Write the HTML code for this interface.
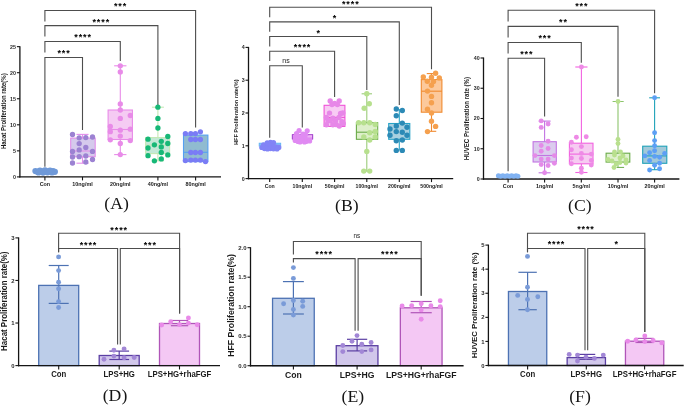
<!DOCTYPE html><html><head><meta charset="utf-8"><style>html,body{margin:0;padding:0;background:#fff;}svg{display:block;will-change:transform;}</style></head><body>
<svg width="685" height="407" viewBox="0 0 685 407">
<rect width="685" height="407" fill="#fff"/>
<polyline points="44.90,21.40 44.90,10.50 195.60,10.50 195.60,127.40" fill="none" stroke="#4d4d4d" stroke-width="1.1"/>
<polyline points="44.90,36.60 44.90,25.60 157.90,25.60 157.90,105.50" fill="none" stroke="#4d4d4d" stroke-width="1.1"/>
<polyline points="44.90,52.40 44.90,41.50 120.30,41.50 120.30,61.00" fill="none" stroke="#4d4d4d" stroke-width="1.1"/>
<polyline points="44.90,166.80 44.90,57.50 82.50,57.50 82.50,130.00" fill="none" stroke="#4d4d4d" stroke-width="1.1"/>
<text x="0" y="0" font-family='"Liberation Sans", sans-serif' font-size="9.0" font-weight="bold" text-anchor="middle" fill="#000" transform="translate(115.70 9.44) scale(1 1.0)">*</text>
<text x="0" y="0" font-family='"Liberation Sans", sans-serif' font-size="9.0" font-weight="bold" text-anchor="middle" fill="#000" transform="translate(120.10 9.44) scale(1 1.0)">*</text>
<text x="0" y="0" font-family='"Liberation Sans", sans-serif' font-size="9.0" font-weight="bold" text-anchor="middle" fill="#000" transform="translate(124.50 9.44) scale(1 1.0)">*</text>
<text x="0" y="0" font-family='"Liberation Sans", sans-serif' font-size="9.0" font-weight="bold" text-anchor="middle" fill="#000" transform="translate(94.20 24.64) scale(1 1.0)">*</text>
<text x="0" y="0" font-family='"Liberation Sans", sans-serif' font-size="9.0" font-weight="bold" text-anchor="middle" fill="#000" transform="translate(98.60 24.64) scale(1 1.0)">*</text>
<text x="0" y="0" font-family='"Liberation Sans", sans-serif' font-size="9.0" font-weight="bold" text-anchor="middle" fill="#000" transform="translate(103.00 24.64) scale(1 1.0)">*</text>
<text x="0" y="0" font-family='"Liberation Sans", sans-serif' font-size="9.0" font-weight="bold" text-anchor="middle" fill="#000" transform="translate(107.40 24.64) scale(1 1.0)">*</text>
<text x="0" y="0" font-family='"Liberation Sans", sans-serif' font-size="9.0" font-weight="bold" text-anchor="middle" fill="#000" transform="translate(76.00 40.34) scale(1 1.0)">*</text>
<text x="0" y="0" font-family='"Liberation Sans", sans-serif' font-size="9.0" font-weight="bold" text-anchor="middle" fill="#000" transform="translate(80.40 40.34) scale(1 1.0)">*</text>
<text x="0" y="0" font-family='"Liberation Sans", sans-serif' font-size="9.0" font-weight="bold" text-anchor="middle" fill="#000" transform="translate(84.80 40.34) scale(1 1.0)">*</text>
<text x="0" y="0" font-family='"Liberation Sans", sans-serif' font-size="9.0" font-weight="bold" text-anchor="middle" fill="#000" transform="translate(89.20 40.34) scale(1 1.0)">*</text>
<text x="0" y="0" font-family='"Liberation Sans", sans-serif' font-size="9.0" font-weight="bold" text-anchor="middle" fill="#000" transform="translate(59.20 56.14) scale(1 1.0)">*</text>
<text x="0" y="0" font-family='"Liberation Sans", sans-serif' font-size="9.0" font-weight="bold" text-anchor="middle" fill="#000" transform="translate(63.60 56.14) scale(1 1.0)">*</text>
<text x="0" y="0" font-family='"Liberation Sans", sans-serif' font-size="9.0" font-weight="bold" text-anchor="middle" fill="#000" transform="translate(68.00 56.14) scale(1 1.0)">*</text>
<line x1="19.90" y1="46.15" x2="19.90" y2="177.60" stroke="#151515" stroke-width="1.3" stroke-linecap="butt"/>
<line x1="16.90" y1="176.90" x2="19.90" y2="176.90" stroke="#151515" stroke-width="1.1" stroke-linecap="butt"/>
<text x="0" y="0" font-family='"Liberation Sans", sans-serif' font-size="5.3" font-weight="bold" text-anchor="end" fill="#2a2a2a" transform="translate(16.00 178.81) scale(1 1.0)">0</text>
<line x1="16.90" y1="150.85" x2="19.90" y2="150.85" stroke="#151515" stroke-width="1.1" stroke-linecap="butt"/>
<text x="0" y="0" font-family='"Liberation Sans", sans-serif' font-size="5.3" font-weight="bold" text-anchor="end" fill="#2a2a2a" transform="translate(16.00 152.76) scale(1 1.0)">5</text>
<line x1="16.90" y1="124.80" x2="19.90" y2="124.80" stroke="#151515" stroke-width="1.1" stroke-linecap="butt"/>
<text x="0" y="0" font-family='"Liberation Sans", sans-serif' font-size="5.3" font-weight="bold" text-anchor="end" fill="#2a2a2a" transform="translate(16.00 126.71) scale(1 1.0)">10</text>
<line x1="16.90" y1="98.75" x2="19.90" y2="98.75" stroke="#151515" stroke-width="1.1" stroke-linecap="butt"/>
<text x="0" y="0" font-family='"Liberation Sans", sans-serif' font-size="5.3" font-weight="bold" text-anchor="end" fill="#2a2a2a" transform="translate(16.00 100.66) scale(1 1.0)">15</text>
<line x1="16.90" y1="72.70" x2="19.90" y2="72.70" stroke="#151515" stroke-width="1.1" stroke-linecap="butt"/>
<text x="0" y="0" font-family='"Liberation Sans", sans-serif' font-size="5.3" font-weight="bold" text-anchor="end" fill="#2a2a2a" transform="translate(16.00 74.61) scale(1 1.0)">20</text>
<line x1="16.90" y1="46.65" x2="19.90" y2="46.65" stroke="#151515" stroke-width="1.1" stroke-linecap="butt"/>
<text x="0" y="0" font-family='"Liberation Sans", sans-serif' font-size="5.3" font-weight="bold" text-anchor="end" fill="#2a2a2a" transform="translate(16.00 48.56) scale(1 1.0)">25</text>
<line x1="19.30" y1="176.90" x2="221.00" y2="176.90" stroke="#151515" stroke-width="1.4" stroke-linecap="butt"/>
<line x1="44.90" y1="176.90" x2="44.90" y2="180.40" stroke="#151515" stroke-width="1.1" stroke-linecap="butt"/>
<line x1="82.50" y1="176.90" x2="82.50" y2="180.40" stroke="#151515" stroke-width="1.1" stroke-linecap="butt"/>
<line x1="120.30" y1="176.90" x2="120.30" y2="180.40" stroke="#151515" stroke-width="1.1" stroke-linecap="butt"/>
<line x1="157.90" y1="176.90" x2="157.90" y2="180.40" stroke="#151515" stroke-width="1.1" stroke-linecap="butt"/>
<line x1="195.60" y1="176.90" x2="195.60" y2="180.40" stroke="#151515" stroke-width="1.1" stroke-linecap="butt"/>
<text x="0" y="0" font-family='"Liberation Sans", sans-serif' font-size="6.7" font-weight="bold" text-anchor="middle" fill="#1a1a1a" transform="translate(5.60 111.20) rotate(-90) scale(1 1.0)" textLength="75.80" lengthAdjust="spacingAndGlyphs">Hacat Proliferation rate(%)</text>
<text x="0" y="0" font-family='"Liberation Sans", sans-serif' font-size="5.4" font-weight="bold" text-anchor="middle" fill="#1a1a1a" transform="translate(44.90 186.10) scale(1 1.0)">Con</text>
<text x="0" y="0" font-family='"Liberation Sans", sans-serif' font-size="5.4" font-weight="bold" text-anchor="middle" fill="#1a1a1a" transform="translate(82.50 186.10) scale(1 1.0)">10ng/ml</text>
<text x="0" y="0" font-family='"Liberation Sans", sans-serif' font-size="5.4" font-weight="bold" text-anchor="middle" fill="#1a1a1a" transform="translate(120.30 186.10) scale(1 1.0)">20ng/ml</text>
<text x="0" y="0" font-family='"Liberation Sans", sans-serif' font-size="5.4" font-weight="bold" text-anchor="middle" fill="#1a1a1a" transform="translate(157.90 186.10) scale(1 1.0)">40ng/ml</text>
<text x="0" y="0" font-family='"Liberation Sans", sans-serif' font-size="5.4" font-weight="bold" text-anchor="middle" fill="#1a1a1a" transform="translate(195.60 186.10) scale(1 1.0)">80ng/ml</text>
<text x="0" y="0" font-family='"Liberation Serif", serif' font-size="17.7" font-weight="normal" text-anchor="middle" fill="#151515" transform="translate(116.60 208.60) scale(1 1.0)">(A)</text>
<circle cx="35.40" cy="171.10" r="3.1" fill="#6f99d8"/>
<circle cx="37.60" cy="171.80" r="3.1" fill="#6f99d8"/>
<circle cx="39.80" cy="171.10" r="3.1" fill="#6f99d8"/>
<circle cx="42.00" cy="171.80" r="3.1" fill="#6f99d8"/>
<circle cx="44.20" cy="171.10" r="3.1" fill="#6f99d8"/>
<circle cx="46.40" cy="171.80" r="3.1" fill="#6f99d8"/>
<circle cx="48.60" cy="171.10" r="3.1" fill="#6f99d8"/>
<circle cx="50.80" cy="171.80" r="3.1" fill="#6f99d8"/>
<circle cx="53.00" cy="171.10" r="3.1" fill="#6f99d8"/>
<circle cx="54.90" cy="171.80" r="3.1" fill="#6f99d8"/>
<circle cx="38.50" cy="172.40" r="3.1" fill="#6f99d8"/>
<circle cx="43.00" cy="172.60" r="3.1" fill="#6f99d8"/>
<circle cx="47.50" cy="172.30" r="3.1" fill="#6f99d8"/>
<circle cx="52.00" cy="172.50" r="3.1" fill="#6f99d8"/>
<circle cx="40.00" cy="170.60" r="3.1" fill="#6f99d8"/>
<circle cx="45.00" cy="170.40" r="3.1" fill="#6f99d8"/>
<circle cx="50.00" cy="170.50" r="3.1" fill="#6f99d8"/>
<line x1="82.50" y1="134.40" x2="82.50" y2="138.10" stroke="#e28eea" stroke-width="1.1" stroke-linecap="butt"/>
<line x1="76.45" y1="134.40" x2="88.55" y2="134.40" stroke="#e28eea" stroke-width="1.1" stroke-linecap="butt"/>
<line x1="82.50" y1="156.70" x2="82.50" y2="163.20" stroke="#e28eea" stroke-width="1.1" stroke-linecap="butt"/>
<line x1="76.45" y1="163.20" x2="88.55" y2="163.20" stroke="#e28eea" stroke-width="1.1" stroke-linecap="butt"/>
<rect x="70.70" y="138.10" width="24.50" height="18.60" fill="#d5caec" stroke="#e28eea" stroke-width="1.1"/>
<line x1="70.70" y1="151.00" x2="95.20" y2="151.00" stroke="#e28eea" stroke-width="1.1" stroke-linecap="butt"/>
<circle cx="72.50" cy="134.50" r="2.65" fill="#9c82d2"/>
<circle cx="79.20" cy="137.80" r="2.65" fill="#9c82d2"/>
<circle cx="85.80" cy="137.60" r="2.65" fill="#9c82d2"/>
<circle cx="92.50" cy="137.00" r="2.65" fill="#9c82d2"/>
<circle cx="79.20" cy="143.60" r="2.65" fill="#9c82d2"/>
<circle cx="85.80" cy="147.50" r="2.65" fill="#9c82d2"/>
<circle cx="72.50" cy="151.40" r="2.65" fill="#9c82d2"/>
<circle cx="79.20" cy="149.90" r="2.65" fill="#9c82d2"/>
<circle cx="92.50" cy="151.40" r="2.65" fill="#9c82d2"/>
<circle cx="72.50" cy="157.00" r="2.65" fill="#9c82d2"/>
<circle cx="79.20" cy="156.70" r="2.65" fill="#9c82d2"/>
<circle cx="85.80" cy="156.00" r="2.65" fill="#9c82d2"/>
<circle cx="92.50" cy="159.50" r="2.65" fill="#9c82d2"/>
<circle cx="72.50" cy="163.00" r="2.65" fill="#9c82d2"/>
<circle cx="85.80" cy="162.00" r="2.65" fill="#9c82d2"/>
<line x1="120.30" y1="65.80" x2="120.30" y2="110.00" stroke="#e88be8" stroke-width="1.1" stroke-linecap="butt"/>
<line x1="114.15" y1="65.80" x2="126.45" y2="65.80" stroke="#e88be8" stroke-width="1.1" stroke-linecap="butt"/>
<line x1="120.30" y1="139.50" x2="120.30" y2="154.60" stroke="#e88be8" stroke-width="1.1" stroke-linecap="butt"/>
<line x1="114.15" y1="154.60" x2="126.45" y2="154.60" stroke="#e88be8" stroke-width="1.1" stroke-linecap="butt"/>
<rect x="108.10" y="110.00" width="24.30" height="29.50" fill="#f5cbf3" stroke="#e88be8" stroke-width="1.1"/>
<line x1="108.10" y1="129.50" x2="132.40" y2="129.50" stroke="#e88be8" stroke-width="1.1" stroke-linecap="butt"/>
<circle cx="120.30" cy="65.80" r="2.65" fill="#e88be8"/>
<circle cx="120.30" cy="71.90" r="2.65" fill="#e88be8"/>
<circle cx="120.30" cy="103.90" r="2.65" fill="#e88be8"/>
<circle cx="120.30" cy="110.00" r="2.65" fill="#e88be8"/>
<circle cx="130.30" cy="115.50" r="2.65" fill="#e88be8"/>
<circle cx="120.30" cy="118.40" r="2.65" fill="#e88be8"/>
<circle cx="110.30" cy="126.50" r="2.65" fill="#e88be8"/>
<circle cx="110.30" cy="131.70" r="2.65" fill="#e88be8"/>
<circle cx="120.30" cy="130.20" r="2.65" fill="#e88be8"/>
<circle cx="130.30" cy="129.20" r="2.65" fill="#e88be8"/>
<circle cx="120.30" cy="136.10" r="2.65" fill="#e88be8"/>
<circle cx="110.30" cy="139.80" r="2.65" fill="#e88be8"/>
<circle cx="130.30" cy="140.60" r="2.65" fill="#e88be8"/>
<circle cx="120.30" cy="143.50" r="2.65" fill="#e88be8"/>
<circle cx="120.30" cy="154.60" r="2.65" fill="#e88be8"/>
<line x1="157.90" y1="107.20" x2="157.90" y2="137.60" stroke="#c4e8b4" stroke-width="1.1" stroke-linecap="butt"/>
<line x1="151.90" y1="107.20" x2="163.90" y2="107.20" stroke="#c4e8b4" stroke-width="1.1" stroke-linecap="butt"/>
<line x1="157.90" y1="153.60" x2="157.90" y2="160.80" stroke="#c4e8b4" stroke-width="1.1" stroke-linecap="butt"/>
<line x1="151.90" y1="160.80" x2="163.90" y2="160.80" stroke="#c4e8b4" stroke-width="1.1" stroke-linecap="butt"/>
<rect x="145.60" y="137.60" width="24.00" height="16.00" fill="#c3e8d7" stroke="#c4e8b4" stroke-width="1.1"/>
<line x1="145.60" y1="145.10" x2="169.60" y2="145.10" stroke="#c4e8b4" stroke-width="1.1" stroke-linecap="butt"/>
<circle cx="157.90" cy="107.20" r="2.65" fill="#17b877"/>
<circle cx="157.90" cy="118.40" r="2.65" fill="#17b877"/>
<circle cx="157.90" cy="128.00" r="2.65" fill="#17b877"/>
<circle cx="148.00" cy="139.20" r="2.65" fill="#17b877"/>
<circle cx="154.40" cy="144.80" r="2.65" fill="#17b877"/>
<circle cx="161.30" cy="141.30" r="2.65" fill="#17b877"/>
<circle cx="167.80" cy="136.50" r="2.65" fill="#17b877"/>
<circle cx="167.80" cy="143.50" r="2.65" fill="#17b877"/>
<circle cx="161.30" cy="146.90" r="2.65" fill="#17b877"/>
<circle cx="148.00" cy="148.00" r="2.65" fill="#17b877"/>
<circle cx="161.30" cy="152.50" r="2.65" fill="#17b877"/>
<circle cx="148.00" cy="155.70" r="2.65" fill="#17b877"/>
<circle cx="167.80" cy="154.90" r="2.65" fill="#17b877"/>
<circle cx="161.30" cy="158.90" r="2.65" fill="#17b877"/>
<circle cx="154.40" cy="160.80" r="2.65" fill="#17b877"/>
<rect x="183.50" y="135.10" width="24.40" height="26.50" fill="#90bbd0" stroke="#55a0f2" stroke-width="1.1"/>
<line x1="183.50" y1="152.30" x2="207.90" y2="152.30" stroke="#55a0f2" stroke-width="1.1" stroke-linecap="butt"/>
<circle cx="185.40" cy="133.60" r="2.65" fill="#7a7cf5"/>
<circle cx="190.80" cy="133.60" r="2.65" fill="#7a7cf5"/>
<circle cx="195.40" cy="133.60" r="2.65" fill="#7a7cf5"/>
<circle cx="200.40" cy="131.80" r="2.65" fill="#7a7cf5"/>
<circle cx="190.80" cy="139.50" r="2.65" fill="#7a7cf5"/>
<circle cx="195.40" cy="139.50" r="2.65" fill="#7a7cf5"/>
<circle cx="200.40" cy="139.50" r="2.65" fill="#7a7cf5"/>
<circle cx="190.80" cy="152.50" r="2.65" fill="#7a7cf5"/>
<circle cx="195.40" cy="152.50" r="2.65" fill="#7a7cf5"/>
<circle cx="200.40" cy="152.50" r="2.65" fill="#7a7cf5"/>
<circle cx="185.40" cy="160.60" r="2.65" fill="#7a7cf5"/>
<circle cx="190.80" cy="160.10" r="2.65" fill="#7a7cf5"/>
<circle cx="195.40" cy="160.10" r="2.65" fill="#7a7cf5"/>
<circle cx="200.40" cy="160.10" r="2.65" fill="#7a7cf5"/>
<circle cx="205.50" cy="161.60" r="2.65" fill="#7a7cf5"/>
<polyline points="269.70,17.20 269.70,7.30 431.50,7.30 431.50,69.30" fill="none" stroke="#4d4d4d" stroke-width="1.1"/>
<polyline points="269.70,31.80 269.70,21.90 399.30,21.90 399.30,105.00" fill="none" stroke="#4d4d4d" stroke-width="1.1"/>
<polyline points="269.70,46.50 269.70,36.50 366.80,36.50 366.80,89.90" fill="none" stroke="#4d4d4d" stroke-width="1.1"/>
<polyline points="269.70,61.10 269.70,51.30 334.60,51.30 334.60,96.90" fill="none" stroke="#4d4d4d" stroke-width="1.1"/>
<polyline points="269.70,137.70 269.70,65.70 302.30,65.70 302.30,127.40" fill="none" stroke="#4d4d4d" stroke-width="1.1"/>
<text x="0" y="0" font-family='"Liberation Sans", sans-serif' font-size="9.0" font-weight="bold" text-anchor="middle" fill="#000" transform="translate(343.70 6.64) scale(1 1.0)">*</text>
<text x="0" y="0" font-family='"Liberation Sans", sans-serif' font-size="9.0" font-weight="bold" text-anchor="middle" fill="#000" transform="translate(348.10 6.64) scale(1 1.0)">*</text>
<text x="0" y="0" font-family='"Liberation Sans", sans-serif' font-size="9.0" font-weight="bold" text-anchor="middle" fill="#000" transform="translate(352.50 6.64) scale(1 1.0)">*</text>
<text x="0" y="0" font-family='"Liberation Sans", sans-serif' font-size="9.0" font-weight="bold" text-anchor="middle" fill="#000" transform="translate(356.90 6.64) scale(1 1.0)">*</text>
<text x="0" y="0" font-family='"Liberation Sans", sans-serif' font-size="9.0" font-weight="bold" text-anchor="middle" fill="#000" transform="translate(334.40 21.14) scale(1 1.0)">*</text>
<text x="0" y="0" font-family='"Liberation Sans", sans-serif' font-size="9.0" font-weight="bold" text-anchor="middle" fill="#000" transform="translate(318.30 35.74) scale(1 1.0)">*</text>
<text x="0" y="0" font-family='"Liberation Sans", sans-serif' font-size="9.0" font-weight="bold" text-anchor="middle" fill="#000" transform="translate(295.40 50.34) scale(1 1.0)">*</text>
<text x="0" y="0" font-family='"Liberation Sans", sans-serif' font-size="9.0" font-weight="bold" text-anchor="middle" fill="#000" transform="translate(299.80 50.34) scale(1 1.0)">*</text>
<text x="0" y="0" font-family='"Liberation Sans", sans-serif' font-size="9.0" font-weight="bold" text-anchor="middle" fill="#000" transform="translate(304.20 50.34) scale(1 1.0)">*</text>
<text x="0" y="0" font-family='"Liberation Sans", sans-serif' font-size="9.0" font-weight="bold" text-anchor="middle" fill="#000" transform="translate(308.60 50.34) scale(1 1.0)">*</text>
<text x="0" y="0" font-family='"Liberation Sans", sans-serif' font-size="7.0" font-weight="normal" text-anchor="middle" fill="#222" transform="translate(286.00 62.80) scale(1 1.0)">ns</text>
<line x1="248.50" y1="46.90" x2="248.50" y2="179.30" stroke="#151515" stroke-width="1.3" stroke-linecap="butt"/>
<line x1="245.50" y1="178.60" x2="248.50" y2="178.60" stroke="#151515" stroke-width="1.1" stroke-linecap="butt"/>
<text x="0" y="0" font-family='"Liberation Sans", sans-serif' font-size="5.3" font-weight="bold" text-anchor="end" fill="#2a2a2a" transform="translate(244.60 180.51) scale(1 1.0)">0</text>
<line x1="245.50" y1="145.80" x2="248.50" y2="145.80" stroke="#151515" stroke-width="1.1" stroke-linecap="butt"/>
<text x="0" y="0" font-family='"Liberation Sans", sans-serif' font-size="5.3" font-weight="bold" text-anchor="end" fill="#2a2a2a" transform="translate(244.60 147.71) scale(1 1.0)">1</text>
<line x1="245.50" y1="113.00" x2="248.50" y2="113.00" stroke="#151515" stroke-width="1.1" stroke-linecap="butt"/>
<text x="0" y="0" font-family='"Liberation Sans", sans-serif' font-size="5.3" font-weight="bold" text-anchor="end" fill="#2a2a2a" transform="translate(244.60 114.91) scale(1 1.0)">2</text>
<line x1="245.50" y1="80.20" x2="248.50" y2="80.20" stroke="#151515" stroke-width="1.1" stroke-linecap="butt"/>
<text x="0" y="0" font-family='"Liberation Sans", sans-serif' font-size="5.3" font-weight="bold" text-anchor="end" fill="#2a2a2a" transform="translate(244.60 82.11) scale(1 1.0)">3</text>
<line x1="245.50" y1="47.40" x2="248.50" y2="47.40" stroke="#151515" stroke-width="1.1" stroke-linecap="butt"/>
<text x="0" y="0" font-family='"Liberation Sans", sans-serif' font-size="5.3" font-weight="bold" text-anchor="end" fill="#2a2a2a" transform="translate(244.60 49.31) scale(1 1.0)">4</text>
<line x1="247.90" y1="178.60" x2="453.20" y2="178.60" stroke="#151515" stroke-width="1.4" stroke-linecap="butt"/>
<line x1="269.70" y1="178.60" x2="269.70" y2="182.10" stroke="#151515" stroke-width="1.1" stroke-linecap="butt"/>
<line x1="302.30" y1="178.60" x2="302.30" y2="182.10" stroke="#151515" stroke-width="1.1" stroke-linecap="butt"/>
<line x1="334.60" y1="178.60" x2="334.60" y2="182.10" stroke="#151515" stroke-width="1.1" stroke-linecap="butt"/>
<line x1="366.80" y1="178.60" x2="366.80" y2="182.10" stroke="#151515" stroke-width="1.1" stroke-linecap="butt"/>
<line x1="399.30" y1="178.60" x2="399.30" y2="182.10" stroke="#151515" stroke-width="1.1" stroke-linecap="butt"/>
<line x1="431.50" y1="178.60" x2="431.50" y2="182.10" stroke="#151515" stroke-width="1.1" stroke-linecap="butt"/>
<text x="0" y="0" font-family='"Liberation Sans", sans-serif' font-size="6.0" font-weight="bold" text-anchor="middle" fill="#1a1a1a" transform="translate(237.60 112.20) rotate(-90) scale(1 1.0)" textLength="65.70" lengthAdjust="spacingAndGlyphs">HFF Proliferation rate(%)</text>
<text x="0" y="0" font-family='"Liberation Sans", sans-serif' font-size="5.2" font-weight="bold" text-anchor="middle" fill="#1a1a1a" transform="translate(269.70 187.50) scale(1 1.0)">Con</text>
<text x="0" y="0" font-family='"Liberation Sans", sans-serif' font-size="5.2" font-weight="bold" text-anchor="middle" fill="#1a1a1a" transform="translate(302.30 187.50) scale(1 1.0)">10ng/ml</text>
<text x="0" y="0" font-family='"Liberation Sans", sans-serif' font-size="5.2" font-weight="bold" text-anchor="middle" fill="#1a1a1a" transform="translate(334.60 187.50) scale(1 1.0)">50ng/ml</text>
<text x="0" y="0" font-family='"Liberation Sans", sans-serif' font-size="5.2" font-weight="bold" text-anchor="middle" fill="#1a1a1a" transform="translate(366.80 187.50) scale(1 1.0)">100ng/ml</text>
<text x="0" y="0" font-family='"Liberation Sans", sans-serif' font-size="5.2" font-weight="bold" text-anchor="middle" fill="#1a1a1a" transform="translate(399.30 187.50) scale(1 1.0)">200ng/ml</text>
<text x="0" y="0" font-family='"Liberation Sans", sans-serif' font-size="5.2" font-weight="bold" text-anchor="middle" fill="#1a1a1a" transform="translate(431.50 187.50) scale(1 1.0)">500ng/ml</text>
<text x="0" y="0" font-family='"Liberation Serif", serif' font-size="17.7" font-weight="normal" text-anchor="middle" fill="#151515" transform="translate(346.80 210.70) scale(1 1.0)">(B)</text>
<rect x="259.20" y="143.20" width="21.50" height="2.90" fill="#86bdf3" stroke="#62b3f3" stroke-width="0.9"/>
<circle cx="263.50" cy="144.80" r="2.6" fill="#8284f6"/>
<circle cx="261.80" cy="147.50" r="2.6" fill="#8284f6"/>
<circle cx="264.50" cy="148.60" r="2.6" fill="#8284f6"/>
<circle cx="267.50" cy="146.00" r="2.6" fill="#8284f6"/>
<circle cx="267.20" cy="142.80" r="2.6" fill="#8284f6"/>
<circle cx="270.50" cy="142.30" r="2.6" fill="#8284f6"/>
<circle cx="273.50" cy="142.50" r="2.6" fill="#8284f6"/>
<circle cx="270.50" cy="145.50" r="2.6" fill="#8284f6"/>
<circle cx="273.50" cy="146.00" r="2.6" fill="#8284f6"/>
<circle cx="276.50" cy="147.20" r="2.6" fill="#8284f6"/>
<circle cx="278.80" cy="147.40" r="2.6" fill="#8284f6"/>
<circle cx="270.50" cy="148.60" r="2.6" fill="#8284f6"/>
<circle cx="267.50" cy="149.00" r="2.6" fill="#8284f6"/>
<circle cx="273.50" cy="148.80" r="2.6" fill="#8284f6"/>
<circle cx="277.00" cy="149.00" r="2.6" fill="#8284f6"/>
<rect x="292.40" y="134.60" width="20.20" height="4.50" fill="#e9b0f0" stroke="#a94fd0" stroke-width="1.0"/>
<circle cx="299.10" cy="130.60" r="2.6" fill="#e08af2"/>
<circle cx="307.20" cy="130.80" r="2.6" fill="#e08af2"/>
<circle cx="296.50" cy="133.50" r="2.6" fill="#e08af2"/>
<circle cx="303.00" cy="134.00" r="2.6" fill="#e08af2"/>
<circle cx="305.50" cy="134.50" r="2.6" fill="#e08af2"/>
<circle cx="295.20" cy="137.00" r="2.6" fill="#e08af2"/>
<circle cx="298.50" cy="136.50" r="2.6" fill="#e08af2"/>
<circle cx="302.50" cy="137.50" r="2.6" fill="#e08af2"/>
<circle cx="306.50" cy="137.00" r="2.6" fill="#e08af2"/>
<circle cx="309.60" cy="138.60" r="2.6" fill="#e08af2"/>
<circle cx="295.20" cy="140.50" r="2.6" fill="#e08af2"/>
<circle cx="298.00" cy="141.50" r="2.6" fill="#e08af2"/>
<circle cx="302.00" cy="140.50" r="2.6" fill="#e08af2"/>
<circle cx="306.00" cy="141.50" r="2.6" fill="#e08af2"/>
<circle cx="309.60" cy="141.00" r="2.6" fill="#e08af2"/>
<circle cx="300.00" cy="142.00" r="2.6" fill="#e08af2"/>
<circle cx="304.50" cy="142.00" r="2.6" fill="#e08af2"/>
<line x1="292.40" y1="134.60" x2="292.40" y2="139.10" stroke="#a94fd0" stroke-width="1.0" stroke-linecap="butt"/>
<line x1="312.60" y1="134.60" x2="312.60" y2="139.10" stroke="#a94fd0" stroke-width="1.0" stroke-linecap="butt"/>
<line x1="307.50" y1="136.80" x2="312.00" y2="136.80" stroke="#f3c8f6" stroke-width="0.9" stroke-linecap="butt"/>
<rect x="324.10" y="105.30" width="20.80" height="21.10" fill="#f8cbf4" stroke="#f052d8" stroke-width="1.1"/>
<line x1="324.10" y1="117.40" x2="344.90" y2="117.40" stroke="#f052d8" stroke-width="1.1" stroke-linecap="butt"/>
<circle cx="330.20" cy="100.90" r="2.7" fill="#e787e8"/>
<circle cx="339.20" cy="100.90" r="2.7" fill="#e787e8"/>
<circle cx="334.70" cy="103.40" r="2.7" fill="#e787e8"/>
<circle cx="332.00" cy="104.50" r="2.7" fill="#e787e8"/>
<circle cx="337.40" cy="104.50" r="2.7" fill="#e787e8"/>
<circle cx="328.00" cy="120.50" r="2.7" fill="#e787e8"/>
<circle cx="336.00" cy="124.50" r="2.7" fill="#e787e8"/>
<circle cx="339.00" cy="117.50" r="2.7" fill="#e787e8"/>
<circle cx="329.50" cy="113.10" r="2.7" fill="#e787e8"/>
<circle cx="340.60" cy="113.50" r="2.7" fill="#e787e8"/>
<circle cx="342.80" cy="113.00" r="2.7" fill="#e787e8"/>
<circle cx="326.40" cy="117.40" r="2.7" fill="#e787e8"/>
<circle cx="332.90" cy="118.20" r="2.7" fill="#e787e8"/>
<circle cx="330.30" cy="120.80" r="2.7" fill="#e787e8"/>
<circle cx="335.50" cy="120.80" r="2.7" fill="#e787e8"/>
<circle cx="341.90" cy="121.70" r="2.7" fill="#e787e8"/>
<circle cx="326.40" cy="124.70" r="2.7" fill="#e787e8"/>
<circle cx="332.90" cy="124.70" r="2.7" fill="#e787e8"/>
<circle cx="339.30" cy="126.00" r="2.7" fill="#e787e8"/>
<circle cx="343.20" cy="123.40" r="2.7" fill="#e787e8"/>
<line x1="366.80" y1="93.80" x2="366.80" y2="122.70" stroke="#9acb78" stroke-width="1.1" stroke-linecap="butt"/>
<line x1="361.60" y1="93.80" x2="372.00" y2="93.80" stroke="#9acb78" stroke-width="1.1" stroke-linecap="butt"/>
<line x1="366.80" y1="139.30" x2="366.80" y2="171.10" stroke="#9acb78" stroke-width="1.1" stroke-linecap="butt"/>
<line x1="361.60" y1="171.10" x2="372.00" y2="171.10" stroke="#9acb78" stroke-width="1.1" stroke-linecap="butt"/>
<rect x="356.40" y="122.70" width="21.30" height="16.60" fill="#ddefca" stroke="#6aab48" stroke-width="1.1"/>
<line x1="356.40" y1="132.20" x2="377.70" y2="132.20" stroke="#6aab48" stroke-width="1.1" stroke-linecap="butt"/>
<circle cx="366.80" cy="93.80" r="2.7" fill="#b7e08e"/>
<circle cx="369.30" cy="103.70" r="2.7" fill="#b7e08e"/>
<circle cx="364.20" cy="108.30" r="2.7" fill="#b7e08e"/>
<circle cx="358.60" cy="122.70" r="2.7" fill="#b7e08e"/>
<circle cx="363.80" cy="122.70" r="2.7" fill="#b7e08e"/>
<circle cx="369.70" cy="122.70" r="2.7" fill="#b7e08e"/>
<circle cx="375.20" cy="124.50" r="2.7" fill="#b7e08e"/>
<circle cx="369.70" cy="132.80" r="2.7" fill="#b7e08e"/>
<circle cx="375.20" cy="131.50" r="2.7" fill="#b7e08e"/>
<circle cx="363.80" cy="136.90" r="2.7" fill="#b7e08e"/>
<circle cx="369.70" cy="140.00" r="2.7" fill="#b7e08e"/>
<circle cx="375.20" cy="136.90" r="2.7" fill="#b7e08e"/>
<circle cx="366.80" cy="151.40" r="2.7" fill="#b7e08e"/>
<circle cx="363.80" cy="171.10" r="2.7" fill="#b7e08e"/>
<circle cx="369.70" cy="171.10" r="2.7" fill="#b7e08e"/>
<line x1="399.30" y1="109.00" x2="399.30" y2="123.50" stroke="#28a4c8" stroke-width="1.1" stroke-linecap="butt"/>
<line x1="399.30" y1="139.30" x2="399.30" y2="150.40" stroke="#28a4c8" stroke-width="1.1" stroke-linecap="butt"/>
<rect x="388.70" y="123.50" width="21.10" height="15.80" fill="#a8d0e0" stroke="#28a4c8" stroke-width="1.1"/>
<circle cx="396.30" cy="109.00" r="2.7" fill="#2c8ab6"/>
<circle cx="402.30" cy="110.50" r="2.7" fill="#2c8ab6"/>
<circle cx="396.30" cy="115.70" r="2.7" fill="#2c8ab6"/>
<circle cx="402.30" cy="123.10" r="2.7" fill="#2c8ab6"/>
<circle cx="396.30" cy="126.00" r="2.7" fill="#2c8ab6"/>
<circle cx="390.00" cy="129.00" r="2.7" fill="#2c8ab6"/>
<circle cx="407.00" cy="127.20" r="2.7" fill="#2c8ab6"/>
<circle cx="396.30" cy="131.60" r="2.7" fill="#2c8ab6"/>
<circle cx="402.30" cy="132.20" r="2.7" fill="#2c8ab6"/>
<circle cx="390.00" cy="135.20" r="2.7" fill="#2c8ab6"/>
<circle cx="407.00" cy="135.20" r="2.7" fill="#2c8ab6"/>
<circle cx="396.30" cy="140.80" r="2.7" fill="#2c8ab6"/>
<circle cx="402.30" cy="140.00" r="2.7" fill="#2c8ab6"/>
<circle cx="396.30" cy="150.40" r="2.7" fill="#2c8ab6"/>
<circle cx="402.30" cy="150.40" r="2.7" fill="#2c8ab6"/>
<line x1="431.50" y1="73.60" x2="431.50" y2="79.60" stroke="#f08a30" stroke-width="1.1" stroke-linecap="butt"/>
<line x1="426.75" y1="73.60" x2="436.25" y2="73.60" stroke="#f08a30" stroke-width="1.1" stroke-linecap="butt"/>
<line x1="431.50" y1="112.20" x2="431.50" y2="131.30" stroke="#f08a30" stroke-width="1.1" stroke-linecap="butt"/>
<line x1="426.75" y1="131.30" x2="436.25" y2="131.30" stroke="#f08a30" stroke-width="1.1" stroke-linecap="butt"/>
<rect x="421.30" y="79.60" width="20.60" height="32.60" fill="#fcc99c" stroke="#f08a30" stroke-width="1.1"/>
<line x1="421.30" y1="91.20" x2="441.90" y2="91.20" stroke="#f08a30" stroke-width="1.1" stroke-linecap="butt"/>
<circle cx="435.60" cy="73.20" r="2.7" fill="#f5a04e"/>
<circle cx="423.30" cy="77.00" r="2.7" fill="#f5a04e"/>
<circle cx="431.50" cy="77.30" r="2.7" fill="#f5a04e"/>
<circle cx="439.30" cy="77.90" r="2.7" fill="#f5a04e"/>
<circle cx="427.30" cy="81.30" r="2.7" fill="#f5a04e"/>
<circle cx="433.50" cy="81.60" r="2.7" fill="#f5a04e"/>
<circle cx="431.50" cy="85.20" r="2.7" fill="#f5a04e"/>
<circle cx="427.50" cy="91.10" r="2.7" fill="#f5a04e"/>
<circle cx="431.50" cy="96.40" r="2.7" fill="#f5a04e"/>
<circle cx="431.50" cy="102.70" r="2.7" fill="#f5a04e"/>
<circle cx="427.50" cy="109.30" r="2.7" fill="#f5a04e"/>
<circle cx="431.50" cy="113.00" r="2.7" fill="#f5a04e"/>
<circle cx="431.50" cy="121.30" r="2.7" fill="#f5a04e"/>
<circle cx="435.60" cy="126.40" r="2.7" fill="#f5a04e"/>
<circle cx="427.50" cy="131.60" r="2.7" fill="#f5a04e"/>
<polyline points="508.10,21.50 508.10,10.20 654.60,10.20 654.60,93.20" fill="none" stroke="#4d4d4d" stroke-width="1.1"/>
<polyline points="508.10,37.40 508.10,26.40 618.00,26.40 618.00,96.70" fill="none" stroke="#4d4d4d" stroke-width="1.1"/>
<polyline points="508.10,53.50 508.10,42.50 581.30,42.50 581.30,62.70" fill="none" stroke="#4d4d4d" stroke-width="1.1"/>
<polyline points="508.10,171.30 508.10,58.20 544.60,58.20 544.60,116.60" fill="none" stroke="#4d4d4d" stroke-width="1.1"/>
<text x="0" y="0" font-family='"Liberation Sans", sans-serif' font-size="9.0" font-weight="bold" text-anchor="middle" fill="#000" transform="translate(576.90 8.94) scale(1 1.0)">*</text>
<text x="0" y="0" font-family='"Liberation Sans", sans-serif' font-size="9.0" font-weight="bold" text-anchor="middle" fill="#000" transform="translate(581.30 8.94) scale(1 1.0)">*</text>
<text x="0" y="0" font-family='"Liberation Sans", sans-serif' font-size="9.0" font-weight="bold" text-anchor="middle" fill="#000" transform="translate(585.70 8.94) scale(1 1.0)">*</text>
<text x="0" y="0" font-family='"Liberation Sans", sans-serif' font-size="9.0" font-weight="bold" text-anchor="middle" fill="#000" transform="translate(560.80 24.84) scale(1 1.0)">*</text>
<text x="0" y="0" font-family='"Liberation Sans", sans-serif' font-size="9.0" font-weight="bold" text-anchor="middle" fill="#000" transform="translate(565.20 24.84) scale(1 1.0)">*</text>
<text x="0" y="0" font-family='"Liberation Sans", sans-serif' font-size="9.0" font-weight="bold" text-anchor="middle" fill="#000" transform="translate(540.20 40.94) scale(1 1.0)">*</text>
<text x="0" y="0" font-family='"Liberation Sans", sans-serif' font-size="9.0" font-weight="bold" text-anchor="middle" fill="#000" transform="translate(544.60 40.94) scale(1 1.0)">*</text>
<text x="0" y="0" font-family='"Liberation Sans", sans-serif' font-size="9.0" font-weight="bold" text-anchor="middle" fill="#000" transform="translate(549.00 40.94) scale(1 1.0)">*</text>
<text x="0" y="0" font-family='"Liberation Sans", sans-serif' font-size="9.0" font-weight="bold" text-anchor="middle" fill="#000" transform="translate(521.90 56.94) scale(1 1.0)">*</text>
<text x="0" y="0" font-family='"Liberation Sans", sans-serif' font-size="9.0" font-weight="bold" text-anchor="middle" fill="#000" transform="translate(526.30 56.94) scale(1 1.0)">*</text>
<text x="0" y="0" font-family='"Liberation Sans", sans-serif' font-size="9.0" font-weight="bold" text-anchor="middle" fill="#000" transform="translate(530.70 56.94) scale(1 1.0)">*</text>
<line x1="483.50" y1="57.50" x2="483.50" y2="179.70" stroke="#151515" stroke-width="1.3" stroke-linecap="butt"/>
<line x1="480.50" y1="179.00" x2="483.50" y2="179.00" stroke="#151515" stroke-width="1.1" stroke-linecap="butt"/>
<text x="0" y="0" font-family='"Liberation Sans", sans-serif' font-size="5.3" font-weight="bold" text-anchor="end" fill="#2a2a2a" transform="translate(479.60 180.91) scale(1 1.0)">0</text>
<line x1="480.50" y1="148.75" x2="483.50" y2="148.75" stroke="#151515" stroke-width="1.1" stroke-linecap="butt"/>
<text x="0" y="0" font-family='"Liberation Sans", sans-serif' font-size="5.3" font-weight="bold" text-anchor="end" fill="#2a2a2a" transform="translate(479.60 150.66) scale(1 1.0)">10</text>
<line x1="480.50" y1="118.50" x2="483.50" y2="118.50" stroke="#151515" stroke-width="1.1" stroke-linecap="butt"/>
<text x="0" y="0" font-family='"Liberation Sans", sans-serif' font-size="5.3" font-weight="bold" text-anchor="end" fill="#2a2a2a" transform="translate(479.60 120.41) scale(1 1.0)">20</text>
<line x1="480.50" y1="88.25" x2="483.50" y2="88.25" stroke="#151515" stroke-width="1.1" stroke-linecap="butt"/>
<text x="0" y="0" font-family='"Liberation Sans", sans-serif' font-size="5.3" font-weight="bold" text-anchor="end" fill="#2a2a2a" transform="translate(479.60 90.16) scale(1 1.0)">30</text>
<line x1="480.50" y1="58.00" x2="483.50" y2="58.00" stroke="#151515" stroke-width="1.1" stroke-linecap="butt"/>
<text x="0" y="0" font-family='"Liberation Sans", sans-serif' font-size="5.3" font-weight="bold" text-anchor="end" fill="#2a2a2a" transform="translate(479.60 59.91) scale(1 1.0)">40</text>
<line x1="482.90" y1="179.00" x2="679.40" y2="179.00" stroke="#151515" stroke-width="1.4" stroke-linecap="butt"/>
<line x1="508.10" y1="179.00" x2="508.10" y2="182.50" stroke="#151515" stroke-width="1.1" stroke-linecap="butt"/>
<line x1="544.60" y1="179.00" x2="544.60" y2="182.50" stroke="#151515" stroke-width="1.1" stroke-linecap="butt"/>
<line x1="581.30" y1="179.00" x2="581.30" y2="182.50" stroke="#151515" stroke-width="1.1" stroke-linecap="butt"/>
<line x1="618.00" y1="179.00" x2="618.00" y2="182.50" stroke="#151515" stroke-width="1.1" stroke-linecap="butt"/>
<line x1="654.60" y1="179.00" x2="654.60" y2="182.50" stroke="#151515" stroke-width="1.1" stroke-linecap="butt"/>
<text x="0" y="0" font-family='"Liberation Sans", sans-serif' font-size="6.7" font-weight="bold" text-anchor="middle" fill="#1a1a1a" transform="translate(469.00 118.55) rotate(-90) scale(1 1.0)" textLength="83.30" lengthAdjust="spacingAndGlyphs">HUVEC Proliferation rate (%)</text>
<text x="0" y="0" font-family='"Liberation Sans", sans-serif' font-size="5.4" font-weight="bold" text-anchor="middle" fill="#1a1a1a" transform="translate(508.10 188.30) scale(1 1.0)">Con</text>
<text x="0" y="0" font-family='"Liberation Sans", sans-serif' font-size="5.4" font-weight="bold" text-anchor="middle" fill="#1a1a1a" transform="translate(544.60 188.30) scale(1 1.0)">1ng/ml</text>
<text x="0" y="0" font-family='"Liberation Sans", sans-serif' font-size="5.4" font-weight="bold" text-anchor="middle" fill="#1a1a1a" transform="translate(581.30 188.30) scale(1 1.0)">5ng/ml</text>
<text x="0" y="0" font-family='"Liberation Sans", sans-serif' font-size="5.4" font-weight="bold" text-anchor="middle" fill="#1a1a1a" transform="translate(618.00 188.30) scale(1 1.0)">10ng/ml</text>
<text x="0" y="0" font-family='"Liberation Sans", sans-serif' font-size="5.4" font-weight="bold" text-anchor="middle" fill="#1a1a1a" transform="translate(654.60 188.30) scale(1 1.0)">20ng/ml</text>
<text x="0" y="0" font-family='"Liberation Serif", serif' font-size="17.7" font-weight="normal" text-anchor="middle" fill="#151515" transform="translate(579.80 211.00) scale(1 1.0)">(C)</text>
<circle cx="498.40" cy="175.70" r="2.5" fill="#80b2f2"/>
<circle cx="500.60" cy="176.20" r="2.5" fill="#80b2f2"/>
<circle cx="502.80" cy="175.70" r="2.5" fill="#80b2f2"/>
<circle cx="505.00" cy="176.20" r="2.5" fill="#80b2f2"/>
<circle cx="507.20" cy="175.70" r="2.5" fill="#80b2f2"/>
<circle cx="509.40" cy="176.20" r="2.5" fill="#80b2f2"/>
<circle cx="511.60" cy="175.70" r="2.5" fill="#80b2f2"/>
<circle cx="513.80" cy="176.20" r="2.5" fill="#80b2f2"/>
<circle cx="516.00" cy="175.70" r="2.5" fill="#80b2f2"/>
<circle cx="517.90" cy="176.20" r="2.5" fill="#80b2f2"/>
<line x1="544.60" y1="121.10" x2="544.60" y2="141.70" stroke="#c274e2" stroke-width="1.1" stroke-linecap="butt"/>
<line x1="538.60" y1="121.10" x2="550.60" y2="121.10" stroke="#c274e2" stroke-width="1.1" stroke-linecap="butt"/>
<line x1="544.60" y1="162.00" x2="544.60" y2="172.80" stroke="#c274e2" stroke-width="1.1" stroke-linecap="butt"/>
<line x1="538.60" y1="172.80" x2="550.60" y2="172.80" stroke="#c274e2" stroke-width="1.1" stroke-linecap="butt"/>
<rect x="533.10" y="141.70" width="23.20" height="20.30" fill="#dbccee" stroke="#c274e2" stroke-width="1.1"/>
<line x1="533.10" y1="155.50" x2="556.30" y2="155.50" stroke="#c274e2" stroke-width="1.1" stroke-linecap="butt"/>
<circle cx="541.20" cy="120.90" r="2.45" fill="#e48ae8"/>
<circle cx="548.10" cy="124.00" r="2.45" fill="#e48ae8"/>
<circle cx="541.20" cy="127.40" r="2.45" fill="#e48ae8"/>
<circle cx="548.10" cy="141.20" r="2.45" fill="#e48ae8"/>
<circle cx="541.20" cy="145.50" r="2.45" fill="#e48ae8"/>
<circle cx="548.10" cy="148.50" r="2.45" fill="#e48ae8"/>
<circle cx="541.20" cy="151.20" r="2.45" fill="#e48ae8"/>
<circle cx="535.00" cy="155.60" r="2.45" fill="#e48ae8"/>
<circle cx="554.40" cy="155.60" r="2.45" fill="#e48ae8"/>
<circle cx="541.20" cy="159.10" r="2.45" fill="#e48ae8"/>
<circle cx="548.10" cy="159.10" r="2.45" fill="#e48ae8"/>
<circle cx="541.20" cy="164.60" r="2.45" fill="#e48ae8"/>
<circle cx="548.10" cy="165.50" r="2.45" fill="#e48ae8"/>
<circle cx="554.40" cy="163.30" r="2.45" fill="#e48ae8"/>
<circle cx="544.60" cy="172.80" r="2.45" fill="#e48ae8"/>
<line x1="581.40" y1="67.00" x2="581.40" y2="143.20" stroke="#f262e0" stroke-width="1.1" stroke-linecap="butt"/>
<line x1="575.30" y1="67.00" x2="587.50" y2="67.00" stroke="#f262e0" stroke-width="1.1" stroke-linecap="butt"/>
<line x1="581.40" y1="163.80" x2="581.40" y2="172.50" stroke="#f262e0" stroke-width="1.1" stroke-linecap="butt"/>
<line x1="575.30" y1="172.50" x2="587.50" y2="172.50" stroke="#f262e0" stroke-width="1.1" stroke-linecap="butt"/>
<rect x="569.40" y="143.20" width="23.60" height="20.60" fill="#f6cbf1" stroke="#f262e0" stroke-width="1.1"/>
<line x1="569.40" y1="154.10" x2="593.00" y2="154.10" stroke="#f262e0" stroke-width="1.1" stroke-linecap="butt"/>
<circle cx="581.40" cy="67.00" r="2.45" fill="#ee8ae6"/>
<circle cx="576.40" cy="137.20" r="2.45" fill="#ee8ae6"/>
<circle cx="586.20" cy="136.80" r="2.45" fill="#ee8ae6"/>
<circle cx="571.40" cy="142.30" r="2.45" fill="#ee8ae6"/>
<circle cx="581.40" cy="146.60" r="2.45" fill="#ee8ae6"/>
<circle cx="571.40" cy="149.70" r="2.45" fill="#ee8ae6"/>
<circle cx="581.40" cy="153.40" r="2.45" fill="#ee8ae6"/>
<circle cx="591.30" cy="154.10" r="2.45" fill="#ee8ae6"/>
<circle cx="571.40" cy="158.10" r="2.45" fill="#ee8ae6"/>
<circle cx="581.40" cy="158.50" r="2.45" fill="#ee8ae6"/>
<circle cx="591.30" cy="160.40" r="2.45" fill="#ee8ae6"/>
<circle cx="571.40" cy="163.80" r="2.45" fill="#ee8ae6"/>
<circle cx="591.30" cy="165.10" r="2.45" fill="#ee8ae6"/>
<circle cx="581.40" cy="168.20" r="2.45" fill="#ee8ae6"/>
<circle cx="581.40" cy="172.30" r="2.45" fill="#ee8ae6"/>
<line x1="618.00" y1="101.50" x2="618.00" y2="153.20" stroke="#8cc46c" stroke-width="1.1" stroke-linecap="butt"/>
<line x1="618.00" y1="162.10" x2="618.00" y2="167.40" stroke="#8cc46c" stroke-width="1.1" stroke-linecap="butt"/>
<rect x="606.10" y="153.20" width="23.70" height="8.90" fill="#e0f1d0" stroke="#6aab48" stroke-width="1.1"/>
<line x1="612.60" y1="101.50" x2="623.70" y2="101.50" stroke="#8cc46c" stroke-width="1.0" stroke-linecap="butt"/>
<line x1="616.60" y1="167.40" x2="624.10" y2="167.40" stroke="#6aab48" stroke-width="1.0" stroke-linecap="butt"/>
<circle cx="618.00" cy="101.50" r="2.45" fill="#b9e08e"/>
<circle cx="618.00" cy="139.40" r="2.45" fill="#b9e08e"/>
<circle cx="618.00" cy="143.60" r="2.45" fill="#b9e08e"/>
<circle cx="614.50" cy="152.00" r="2.45" fill="#b9e08e"/>
<circle cx="620.50" cy="152.00" r="2.45" fill="#b9e08e"/>
<circle cx="614.50" cy="155.00" r="2.45" fill="#b9e08e"/>
<circle cx="620.00" cy="158.00" r="2.45" fill="#b9e08e"/>
<circle cx="608.00" cy="159.50" r="2.45" fill="#b9e08e"/>
<circle cx="612.00" cy="161.00" r="2.45" fill="#b9e08e"/>
<circle cx="626.00" cy="160.00" r="2.45" fill="#b9e08e"/>
<circle cx="620.00" cy="162.50" r="2.45" fill="#b9e08e"/>
<circle cx="626.00" cy="163.00" r="2.45" fill="#b9e08e"/>
<circle cx="616.00" cy="164.00" r="2.45" fill="#b9e08e"/>
<circle cx="614.00" cy="167.50" r="2.45" fill="#b9e08e"/>
<circle cx="623.00" cy="156.00" r="2.45" fill="#b9e08e"/>
<line x1="654.60" y1="97.80" x2="654.60" y2="146.20" stroke="#1fa2b8" stroke-width="1.1" stroke-linecap="butt"/>
<line x1="649.20" y1="97.80" x2="660.00" y2="97.80" stroke="#1fa2b8" stroke-width="1.1" stroke-linecap="butt"/>
<line x1="654.60" y1="163.30" x2="654.60" y2="169.70" stroke="#1fa2b8" stroke-width="1.1" stroke-linecap="butt"/>
<line x1="649.20" y1="169.70" x2="660.00" y2="169.70" stroke="#1fa2b8" stroke-width="1.1" stroke-linecap="butt"/>
<rect x="642.70" y="146.20" width="24.10" height="17.10" fill="#a3c9d9" stroke="#1fa2b8" stroke-width="1.1"/>
<line x1="642.70" y1="155.90" x2="666.80" y2="155.90" stroke="#1fa2b8" stroke-width="1.1" stroke-linecap="butt"/>
<circle cx="654.60" cy="97.80" r="2.45" fill="#5d9ff5"/>
<circle cx="654.60" cy="132.80" r="2.45" fill="#5d9ff5"/>
<circle cx="654.60" cy="140.60" r="2.45" fill="#5d9ff5"/>
<circle cx="654.60" cy="145.70" r="2.45" fill="#5d9ff5"/>
<circle cx="654.60" cy="150.70" r="2.45" fill="#5d9ff5"/>
<circle cx="649.60" cy="152.70" r="2.45" fill="#5d9ff5"/>
<circle cx="664.60" cy="153.40" r="2.45" fill="#5d9ff5"/>
<circle cx="644.80" cy="155.90" r="2.45" fill="#5d9ff5"/>
<circle cx="654.60" cy="156.40" r="2.45" fill="#5d9ff5"/>
<circle cx="659.60" cy="157.20" r="2.45" fill="#5d9ff5"/>
<circle cx="649.60" cy="160.50" r="2.45" fill="#5d9ff5"/>
<circle cx="659.60" cy="163.30" r="2.45" fill="#5d9ff5"/>
<circle cx="654.60" cy="165.30" r="2.45" fill="#5d9ff5"/>
<circle cx="649.60" cy="170.00" r="2.45" fill="#5d9ff5"/>
<circle cx="659.60" cy="168.70" r="2.45" fill="#5d9ff5"/>
<polyline points="58.60,252.20 58.60,233.30 179.60,233.30 179.60,313.60" fill="none" stroke="#4d4d4d" stroke-width="1.1"/>
<polyline points="58.60,252.20 58.60,248.50 117.60,248.50 117.60,344.60" fill="none" stroke="#4d4d4d" stroke-width="1.1"/>
<polyline points="120.30,344.60 120.30,248.50 179.60,248.50 179.60,313.60" fill="none" stroke="#4d4d4d" stroke-width="1.1"/>
<text x="0" y="0" font-family='"Liberation Sans", sans-serif' font-size="9.0" font-weight="bold" text-anchor="middle" fill="#000" transform="translate(112.10 232.74) scale(1 1.0)">*</text>
<text x="0" y="0" font-family='"Liberation Sans", sans-serif' font-size="9.0" font-weight="bold" text-anchor="middle" fill="#000" transform="translate(116.50 232.74) scale(1 1.0)">*</text>
<text x="0" y="0" font-family='"Liberation Sans", sans-serif' font-size="9.0" font-weight="bold" text-anchor="middle" fill="#000" transform="translate(120.90 232.74) scale(1 1.0)">*</text>
<text x="0" y="0" font-family='"Liberation Sans", sans-serif' font-size="9.0" font-weight="bold" text-anchor="middle" fill="#000" transform="translate(125.30 232.74) scale(1 1.0)">*</text>
<text x="0" y="0" font-family='"Liberation Sans", sans-serif' font-size="9.0" font-weight="bold" text-anchor="middle" fill="#000" transform="translate(81.40 247.74) scale(1 1.0)">*</text>
<text x="0" y="0" font-family='"Liberation Sans", sans-serif' font-size="9.0" font-weight="bold" text-anchor="middle" fill="#000" transform="translate(85.80 247.74) scale(1 1.0)">*</text>
<text x="0" y="0" font-family='"Liberation Sans", sans-serif' font-size="9.0" font-weight="bold" text-anchor="middle" fill="#000" transform="translate(90.20 247.74) scale(1 1.0)">*</text>
<text x="0" y="0" font-family='"Liberation Sans", sans-serif' font-size="9.0" font-weight="bold" text-anchor="middle" fill="#000" transform="translate(94.60 247.74) scale(1 1.0)">*</text>
<text x="0" y="0" font-family='"Liberation Sans", sans-serif' font-size="9.0" font-weight="bold" text-anchor="middle" fill="#000" transform="translate(145.40 247.74) scale(1 1.0)">*</text>
<text x="0" y="0" font-family='"Liberation Sans", sans-serif' font-size="9.0" font-weight="bold" text-anchor="middle" fill="#000" transform="translate(149.80 247.74) scale(1 1.0)">*</text>
<text x="0" y="0" font-family='"Liberation Sans", sans-serif' font-size="9.0" font-weight="bold" text-anchor="middle" fill="#000" transform="translate(154.20 247.74) scale(1 1.0)">*</text>
<rect x="38.70" y="285.40" width="40.00" height="80.20" fill="#bccde9" stroke="#4d72b3" stroke-width="1.3"/>
<rect x="99.20" y="355.50" width="40.00" height="10.10" fill="#d1c7eb" stroke="#5b3fa3" stroke-width="1.3"/>
<rect x="159.50" y="323.50" width="40.00" height="42.10" fill="#f4c8f4" stroke="#b055b8" stroke-width="1.3"/>
<line x1="58.70" y1="265.50" x2="58.70" y2="303.40" stroke="#4d72b3" stroke-width="1.2" stroke-linecap="butt"/>
<line x1="48.70" y1="265.50" x2="68.70" y2="265.50" stroke="#4d72b3" stroke-width="1.2" stroke-linecap="butt"/>
<line x1="48.70" y1="303.40" x2="68.70" y2="303.40" stroke="#4d72b3" stroke-width="1.2" stroke-linecap="butt"/>
<line x1="119.20" y1="351.10" x2="119.20" y2="359.50" stroke="#5b3fa3" stroke-width="1.2" stroke-linecap="butt"/>
<line x1="109.30" y1="351.10" x2="129.10" y2="351.10" stroke="#5b3fa3" stroke-width="1.2" stroke-linecap="butt"/>
<line x1="109.30" y1="359.50" x2="129.10" y2="359.50" stroke="#5b3fa3" stroke-width="1.2" stroke-linecap="butt"/>
<line x1="179.50" y1="320.50" x2="179.50" y2="325.70" stroke="#b055b8" stroke-width="1.2" stroke-linecap="butt"/>
<line x1="170.85" y1="320.50" x2="188.15" y2="320.50" stroke="#b055b8" stroke-width="1.2" stroke-linecap="butt"/>
<line x1="170.85" y1="325.70" x2="188.15" y2="325.70" stroke="#b055b8" stroke-width="1.2" stroke-linecap="butt"/>
<circle cx="58.60" cy="256.90" r="2.45" fill="#7a9bd8"/>
<circle cx="58.60" cy="270.60" r="2.45" fill="#7a9bd8"/>
<circle cx="58.60" cy="282.20" r="2.45" fill="#7a9bd8"/>
<circle cx="58.60" cy="288.80" r="2.45" fill="#7a9bd8"/>
<circle cx="58.60" cy="301.60" r="2.45" fill="#7a9bd8"/>
<circle cx="58.60" cy="307.50" r="2.45" fill="#7a9bd8"/>
<circle cx="113.90" cy="350.30" r="2.45" fill="#a287d6"/>
<circle cx="124.10" cy="348.90" r="2.45" fill="#a287d6"/>
<circle cx="113.90" cy="356.10" r="2.45" fill="#a287d6"/>
<circle cx="104.00" cy="359.30" r="2.45" fill="#a287d6"/>
<circle cx="124.10" cy="357.80" r="2.45" fill="#a287d6"/>
<circle cx="134.20" cy="357.50" r="2.45" fill="#a287d6"/>
<circle cx="188.40" cy="317.90" r="2.45" fill="#e98ae9"/>
<circle cx="170.70" cy="321.80" r="2.45" fill="#e98ae9"/>
<circle cx="179.50" cy="324.60" r="2.45" fill="#e98ae9"/>
<circle cx="188.40" cy="323.10" r="2.45" fill="#e98ae9"/>
<circle cx="161.70" cy="325.00" r="2.45" fill="#e98ae9"/>
<circle cx="197.20" cy="324.80" r="2.45" fill="#e98ae9"/>
<line x1="18.60" y1="237.39" x2="18.60" y2="366.30" stroke="#151515" stroke-width="1.3" stroke-linecap="butt"/>
<line x1="15.40" y1="365.60" x2="18.60" y2="365.60" stroke="#151515" stroke-width="1.1" stroke-linecap="butt"/>
<text x="0" y="0" font-family='"Liberation Sans", sans-serif' font-size="5.9" font-weight="bold" text-anchor="end" fill="#2a2a2a" transform="translate(14.50 367.72) scale(1 1.0)">0</text>
<line x1="15.40" y1="323.03" x2="18.60" y2="323.03" stroke="#151515" stroke-width="1.1" stroke-linecap="butt"/>
<text x="0" y="0" font-family='"Liberation Sans", sans-serif' font-size="5.9" font-weight="bold" text-anchor="end" fill="#2a2a2a" transform="translate(14.50 325.15) scale(1 1.0)">1</text>
<line x1="15.40" y1="280.46" x2="18.60" y2="280.46" stroke="#151515" stroke-width="1.1" stroke-linecap="butt"/>
<text x="0" y="0" font-family='"Liberation Sans", sans-serif' font-size="5.9" font-weight="bold" text-anchor="end" fill="#2a2a2a" transform="translate(14.50 282.58) scale(1 1.0)">2</text>
<line x1="15.40" y1="237.89" x2="18.60" y2="237.89" stroke="#151515" stroke-width="1.1" stroke-linecap="butt"/>
<text x="0" y="0" font-family='"Liberation Sans", sans-serif' font-size="5.9" font-weight="bold" text-anchor="end" fill="#2a2a2a" transform="translate(14.50 240.01) scale(1 1.0)">3</text>
<line x1="18.00" y1="365.60" x2="220.00" y2="365.60" stroke="#151515" stroke-width="1.4" stroke-linecap="butt"/>
<line x1="58.70" y1="365.60" x2="58.70" y2="369.50" stroke="#151515" stroke-width="1.1" stroke-linecap="butt"/>
<line x1="119.20" y1="365.60" x2="119.20" y2="369.50" stroke="#151515" stroke-width="1.1" stroke-linecap="butt"/>
<line x1="179.50" y1="365.60" x2="179.50" y2="369.50" stroke="#151515" stroke-width="1.1" stroke-linecap="butt"/>
<text x="0" y="0" font-family='"Liberation Sans", sans-serif' font-size="8.2" font-weight="bold" text-anchor="middle" fill="#1a1a1a" transform="translate(7.40 301.20) rotate(-90) scale(1 1.0)" textLength="99.40" lengthAdjust="spacingAndGlyphs">Hacat Proliferation rate(%)</text>
<text x="0" y="0" font-family='"Liberation Sans", sans-serif' font-size="7.8" font-weight="bold" text-anchor="middle" fill="#1a1a1a" transform="translate(58.70 376.80) scale(1 1.1)">Con</text>
<text x="0" y="0" font-family='"Liberation Sans", sans-serif' font-size="7.8" font-weight="bold" text-anchor="middle" fill="#1a1a1a" transform="translate(119.20 376.80) scale(1 1.1)">LPS+HG</text>
<text x="0" y="0" font-family='"Liberation Sans", sans-serif' font-size="7.8" font-weight="bold" text-anchor="middle" fill="#1a1a1a" transform="translate(179.50 376.80) scale(1 1.1)">LPS+HG+rhaFGF</text>
<text x="0" y="0" font-family='"Liberation Serif", serif' font-size="17.7" font-weight="normal" text-anchor="middle" fill="#151515" transform="translate(115.00 400.90) scale(1 1.0)">(D)</text>
<polyline points="293.40,254.50 293.40,241.50 421.20,241.50 421.20,295.80" fill="none" stroke="#4d4d4d" stroke-width="1.1"/>
<polyline points="293.40,262.50 293.40,258.60 355.10,258.60 355.10,330.70" fill="none" stroke="#4d4d4d" stroke-width="1.1"/>
<polyline points="358.10,330.70 358.10,258.60 421.20,258.60 421.20,295.80" fill="none" stroke="#4d4d4d" stroke-width="1.1"/>
<text x="0" y="0" font-family='"Liberation Sans", sans-serif' font-size="6.3" font-weight="normal" text-anchor="middle" fill="#222" transform="translate(356.90 237.60) scale(1 1.0)">ns</text>
<text x="0" y="0" font-family='"Liberation Sans", sans-serif' font-size="9.0" font-weight="bold" text-anchor="middle" fill="#000" transform="translate(317.00 257.14) scale(1 1.0)">*</text>
<text x="0" y="0" font-family='"Liberation Sans", sans-serif' font-size="9.0" font-weight="bold" text-anchor="middle" fill="#000" transform="translate(321.40 257.14) scale(1 1.0)">*</text>
<text x="0" y="0" font-family='"Liberation Sans", sans-serif' font-size="9.0" font-weight="bold" text-anchor="middle" fill="#000" transform="translate(325.80 257.14) scale(1 1.0)">*</text>
<text x="0" y="0" font-family='"Liberation Sans", sans-serif' font-size="9.0" font-weight="bold" text-anchor="middle" fill="#000" transform="translate(330.20 257.14) scale(1 1.0)">*</text>
<text x="0" y="0" font-family='"Liberation Sans", sans-serif' font-size="9.0" font-weight="bold" text-anchor="middle" fill="#000" transform="translate(382.70 257.14) scale(1 1.0)">*</text>
<text x="0" y="0" font-family='"Liberation Sans", sans-serif' font-size="9.0" font-weight="bold" text-anchor="middle" fill="#000" transform="translate(387.10 257.14) scale(1 1.0)">*</text>
<text x="0" y="0" font-family='"Liberation Sans", sans-serif' font-size="9.0" font-weight="bold" text-anchor="middle" fill="#000" transform="translate(391.50 257.14) scale(1 1.0)">*</text>
<text x="0" y="0" font-family='"Liberation Sans", sans-serif' font-size="9.0" font-weight="bold" text-anchor="middle" fill="#000" transform="translate(395.90 257.14) scale(1 1.0)">*</text>
<rect x="272.55" y="298.30" width="41.70" height="67.40" fill="#bccde9" stroke="#4d72b3" stroke-width="1.3"/>
<rect x="336.25" y="345.70" width="41.70" height="20.00" fill="#d1c7eb" stroke="#5b3fa3" stroke-width="1.3"/>
<rect x="400.35" y="307.80" width="41.70" height="57.90" fill="#f4c8f4" stroke="#b055b8" stroke-width="1.3"/>
<line x1="293.40" y1="281.60" x2="293.40" y2="314.00" stroke="#4d72b3" stroke-width="1.2" stroke-linecap="butt"/>
<line x1="282.95" y1="281.60" x2="303.85" y2="281.60" stroke="#4d72b3" stroke-width="1.2" stroke-linecap="butt"/>
<line x1="282.95" y1="314.00" x2="303.85" y2="314.00" stroke="#4d72b3" stroke-width="1.2" stroke-linecap="butt"/>
<line x1="357.10" y1="339.30" x2="357.10" y2="350.90" stroke="#5b3fa3" stroke-width="1.2" stroke-linecap="butt"/>
<line x1="347.00" y1="339.30" x2="367.20" y2="339.30" stroke="#5b3fa3" stroke-width="1.2" stroke-linecap="butt"/>
<line x1="347.00" y1="350.90" x2="367.20" y2="350.90" stroke="#5b3fa3" stroke-width="1.2" stroke-linecap="butt"/>
<line x1="421.20" y1="301.50" x2="421.20" y2="312.70" stroke="#b055b8" stroke-width="1.2" stroke-linecap="butt"/>
<line x1="410.65" y1="301.50" x2="431.75" y2="301.50" stroke="#b055b8" stroke-width="1.2" stroke-linecap="butt"/>
<line x1="410.65" y1="312.70" x2="431.75" y2="312.70" stroke="#b055b8" stroke-width="1.2" stroke-linecap="butt"/>
<circle cx="293.40" cy="267.60" r="2.45" fill="#7a9bd8"/>
<circle cx="293.40" cy="278.40" r="2.45" fill="#7a9bd8"/>
<circle cx="283.60" cy="303.70" r="2.45" fill="#7a9bd8"/>
<circle cx="293.40" cy="300.50" r="2.45" fill="#7a9bd8"/>
<circle cx="302.70" cy="301.30" r="2.45" fill="#7a9bd8"/>
<circle cx="302.70" cy="306.40" r="2.45" fill="#7a9bd8"/>
<circle cx="293.40" cy="309.40" r="2.45" fill="#7a9bd8"/>
<circle cx="293.40" cy="315.00" r="2.45" fill="#7a9bd8"/>
<circle cx="357.00" cy="335.60" r="2.45" fill="#a287d6"/>
<circle cx="352.00" cy="341.30" r="2.45" fill="#a287d6"/>
<circle cx="342.80" cy="345.50" r="2.45" fill="#a287d6"/>
<circle cx="361.80" cy="344.20" r="2.45" fill="#a287d6"/>
<circle cx="371.10" cy="342.50" r="2.45" fill="#a287d6"/>
<circle cx="342.80" cy="351.60" r="2.45" fill="#a287d6"/>
<circle cx="361.80" cy="351.60" r="2.45" fill="#a287d6"/>
<circle cx="371.10" cy="349.90" r="2.45" fill="#a287d6"/>
<circle cx="440.20" cy="300.70" r="2.45" fill="#e98ae9"/>
<circle cx="421.20" cy="303.70" r="2.45" fill="#e98ae9"/>
<circle cx="402.10" cy="305.90" r="2.45" fill="#e98ae9"/>
<circle cx="411.70" cy="305.60" r="2.45" fill="#e98ae9"/>
<circle cx="430.90" cy="305.80" r="2.45" fill="#e98ae9"/>
<circle cx="440.20" cy="306.60" r="2.45" fill="#e98ae9"/>
<circle cx="421.20" cy="309.90" r="2.45" fill="#e98ae9"/>
<circle cx="421.20" cy="319.20" r="2.45" fill="#e98ae9"/>
<line x1="250.50" y1="247.20" x2="250.50" y2="366.40" stroke="#151515" stroke-width="1.3" stroke-linecap="butt"/>
<line x1="247.50" y1="365.70" x2="250.50" y2="365.70" stroke="#151515" stroke-width="1.1" stroke-linecap="butt"/>
<text x="0" y="0" font-family='"Liberation Sans", sans-serif' font-size="6.0" font-weight="bold" text-anchor="end" fill="#2a2a2a" transform="translate(246.60 367.86) scale(1 1.0)">0.0</text>
<line x1="247.50" y1="336.20" x2="250.50" y2="336.20" stroke="#151515" stroke-width="1.1" stroke-linecap="butt"/>
<text x="0" y="0" font-family='"Liberation Sans", sans-serif' font-size="6.0" font-weight="bold" text-anchor="end" fill="#2a2a2a" transform="translate(246.60 338.36) scale(1 1.0)">0.5</text>
<line x1="247.50" y1="306.70" x2="250.50" y2="306.70" stroke="#151515" stroke-width="1.1" stroke-linecap="butt"/>
<text x="0" y="0" font-family='"Liberation Sans", sans-serif' font-size="6.0" font-weight="bold" text-anchor="end" fill="#2a2a2a" transform="translate(246.60 308.86) scale(1 1.0)">1.0</text>
<line x1="247.50" y1="277.20" x2="250.50" y2="277.20" stroke="#151515" stroke-width="1.1" stroke-linecap="butt"/>
<text x="0" y="0" font-family='"Liberation Sans", sans-serif' font-size="6.0" font-weight="bold" text-anchor="end" fill="#2a2a2a" transform="translate(246.60 279.36) scale(1 1.0)">1.5</text>
<line x1="247.50" y1="247.70" x2="250.50" y2="247.70" stroke="#151515" stroke-width="1.1" stroke-linecap="butt"/>
<text x="0" y="0" font-family='"Liberation Sans", sans-serif' font-size="6.0" font-weight="bold" text-anchor="end" fill="#2a2a2a" transform="translate(246.60 249.86) scale(1 1.0)">2.0</text>
<line x1="249.90" y1="365.70" x2="463.60" y2="365.70" stroke="#151515" stroke-width="1.4" stroke-linecap="butt"/>
<line x1="293.40" y1="365.70" x2="293.40" y2="369.60" stroke="#151515" stroke-width="1.1" stroke-linecap="butt"/>
<line x1="357.10" y1="365.70" x2="357.10" y2="369.60" stroke="#151515" stroke-width="1.1" stroke-linecap="butt"/>
<line x1="421.20" y1="365.70" x2="421.20" y2="369.60" stroke="#151515" stroke-width="1.1" stroke-linecap="butt"/>
<text x="0" y="0" font-family='"Liberation Sans", sans-serif' font-size="8.2" font-weight="bold" text-anchor="middle" fill="#1a1a1a" transform="translate(234.10 305.40) rotate(-90) scale(1 1.0)" textLength="102.80" lengthAdjust="spacingAndGlyphs">HFF Proliferation rate(%)</text>
<text x="0" y="0" font-family='"Liberation Sans", sans-serif' font-size="8.65" font-weight="bold" text-anchor="middle" fill="#1a1a1a" transform="translate(293.40 378.40) scale(1 1.1)">Con</text>
<text x="0" y="0" font-family='"Liberation Sans", sans-serif' font-size="8.65" font-weight="bold" text-anchor="middle" fill="#1a1a1a" transform="translate(357.10 378.40) scale(1 1.1)">LPS+HG</text>
<text x="0" y="0" font-family='"Liberation Sans", sans-serif' font-size="8.65" font-weight="bold" text-anchor="middle" fill="#1a1a1a" transform="translate(421.20 378.40) scale(1 1.1)">LPS+HG+rhaFGF</text>
<text x="0" y="0" font-family='"Liberation Serif", serif' font-size="17.7" font-weight="normal" text-anchor="middle" fill="#151515" transform="translate(352.80 401.70) scale(1 1.0)">(E)</text>
<polyline points="527.50,252.20 527.50,233.20 644.80,233.20 644.80,331.90" fill="none" stroke="#4d4d4d" stroke-width="1.1"/>
<polyline points="527.50,252.20 527.50,248.50 585.00,248.50 585.00,350.30" fill="none" stroke="#4d4d4d" stroke-width="1.1"/>
<polyline points="587.70,350.30 587.70,248.50 644.80,248.50 644.80,331.90" fill="none" stroke="#4d4d4d" stroke-width="1.1"/>
<text x="0" y="0" font-family='"Liberation Sans", sans-serif' font-size="9.0" font-weight="bold" text-anchor="middle" fill="#000" transform="translate(578.90 231.94) scale(1 1.0)">*</text>
<text x="0" y="0" font-family='"Liberation Sans", sans-serif' font-size="9.0" font-weight="bold" text-anchor="middle" fill="#000" transform="translate(583.30 231.94) scale(1 1.0)">*</text>
<text x="0" y="0" font-family='"Liberation Sans", sans-serif' font-size="9.0" font-weight="bold" text-anchor="middle" fill="#000" transform="translate(587.70 231.94) scale(1 1.0)">*</text>
<text x="0" y="0" font-family='"Liberation Sans", sans-serif' font-size="9.0" font-weight="bold" text-anchor="middle" fill="#000" transform="translate(592.10 231.94) scale(1 1.0)">*</text>
<text x="0" y="0" font-family='"Liberation Sans", sans-serif' font-size="9.0" font-weight="bold" text-anchor="middle" fill="#000" transform="translate(549.40 247.24) scale(1 1.0)">*</text>
<text x="0" y="0" font-family='"Liberation Sans", sans-serif' font-size="9.0" font-weight="bold" text-anchor="middle" fill="#000" transform="translate(553.80 247.24) scale(1 1.0)">*</text>
<text x="0" y="0" font-family='"Liberation Sans", sans-serif' font-size="9.0" font-weight="bold" text-anchor="middle" fill="#000" transform="translate(558.20 247.24) scale(1 1.0)">*</text>
<text x="0" y="0" font-family='"Liberation Sans", sans-serif' font-size="9.0" font-weight="bold" text-anchor="middle" fill="#000" transform="translate(562.60 247.24) scale(1 1.0)">*</text>
<text x="0" y="0" font-family='"Liberation Sans", sans-serif' font-size="9.0" font-weight="bold" text-anchor="middle" fill="#000" transform="translate(616.20 247.24) scale(1 1.0)">*</text>
<rect x="508.45" y="291.50" width="38.30" height="74.00" fill="#bccde9" stroke="#4d72b3" stroke-width="1.3"/>
<rect x="567.15" y="357.60" width="38.30" height="7.90" fill="#d1c7eb" stroke="#5b3fa3" stroke-width="1.3"/>
<rect x="625.45" y="341.20" width="38.30" height="24.30" fill="#f4c8f4" stroke="#b055b8" stroke-width="1.3"/>
<line x1="527.60" y1="272.30" x2="527.60" y2="309.70" stroke="#4d72b3" stroke-width="1.2" stroke-linecap="butt"/>
<line x1="518.40" y1="272.30" x2="536.80" y2="272.30" stroke="#4d72b3" stroke-width="1.2" stroke-linecap="butt"/>
<line x1="518.40" y1="309.70" x2="536.80" y2="309.70" stroke="#4d72b3" stroke-width="1.2" stroke-linecap="butt"/>
<line x1="586.30" y1="354.40" x2="586.30" y2="359.30" stroke="#5b3fa3" stroke-width="1.2" stroke-linecap="butt"/>
<line x1="577.35" y1="354.40" x2="595.25" y2="354.40" stroke="#5b3fa3" stroke-width="1.2" stroke-linecap="butt"/>
<line x1="577.35" y1="359.30" x2="595.25" y2="359.30" stroke="#5b3fa3" stroke-width="1.2" stroke-linecap="butt"/>
<line x1="644.60" y1="338.40" x2="644.60" y2="342.50" stroke="#b055b8" stroke-width="1.2" stroke-linecap="butt"/>
<line x1="635.50" y1="338.40" x2="653.70" y2="338.40" stroke="#b055b8" stroke-width="1.2" stroke-linecap="butt"/>
<line x1="635.50" y1="342.50" x2="653.70" y2="342.50" stroke="#b055b8" stroke-width="1.2" stroke-linecap="butt"/>
<circle cx="527.50" cy="256.40" r="2.45" fill="#7a9bd8"/>
<circle cx="527.50" cy="287.30" r="2.45" fill="#7a9bd8"/>
<circle cx="517.70" cy="295.40" r="2.45" fill="#7a9bd8"/>
<circle cx="527.50" cy="299.40" r="2.45" fill="#7a9bd8"/>
<circle cx="537.80" cy="296.70" r="2.45" fill="#7a9bd8"/>
<circle cx="527.50" cy="309.70" r="2.45" fill="#7a9bd8"/>
<circle cx="569.20" cy="354.40" r="2.45" fill="#a287d6"/>
<circle cx="577.50" cy="355.10" r="2.45" fill="#a287d6"/>
<circle cx="586.00" cy="357.10" r="2.45" fill="#a287d6"/>
<circle cx="594.40" cy="358.40" r="2.45" fill="#a287d6"/>
<circle cx="603.30" cy="355.10" r="2.45" fill="#a287d6"/>
<circle cx="577.50" cy="361.00" r="2.45" fill="#a287d6"/>
<circle cx="644.80" cy="336.00" r="2.45" fill="#e98ae9"/>
<circle cx="627.70" cy="341.20" r="2.45" fill="#e98ae9"/>
<circle cx="635.90" cy="340.00" r="2.45" fill="#e98ae9"/>
<circle cx="644.80" cy="341.60" r="2.45" fill="#e98ae9"/>
<circle cx="653.20" cy="340.50" r="2.45" fill="#e98ae9"/>
<circle cx="661.80" cy="342.90" r="2.45" fill="#e98ae9"/>
<line x1="488.40" y1="244.60" x2="488.40" y2="366.20" stroke="#151515" stroke-width="1.3" stroke-linecap="butt"/>
<line x1="485.40" y1="365.50" x2="488.40" y2="365.50" stroke="#151515" stroke-width="1.1" stroke-linecap="butt"/>
<text x="0" y="0" font-family='"Liberation Sans", sans-serif' font-size="5.9" font-weight="bold" text-anchor="end" fill="#2a2a2a" transform="translate(484.50 367.62) scale(1 1.0)">0</text>
<line x1="485.40" y1="341.42" x2="488.40" y2="341.42" stroke="#151515" stroke-width="1.1" stroke-linecap="butt"/>
<text x="0" y="0" font-family='"Liberation Sans", sans-serif' font-size="5.9" font-weight="bold" text-anchor="end" fill="#2a2a2a" transform="translate(484.50 343.54) scale(1 1.0)">1</text>
<line x1="485.40" y1="317.34" x2="488.40" y2="317.34" stroke="#151515" stroke-width="1.1" stroke-linecap="butt"/>
<text x="0" y="0" font-family='"Liberation Sans", sans-serif' font-size="5.9" font-weight="bold" text-anchor="end" fill="#2a2a2a" transform="translate(484.50 319.46) scale(1 1.0)">2</text>
<line x1="485.40" y1="293.26" x2="488.40" y2="293.26" stroke="#151515" stroke-width="1.1" stroke-linecap="butt"/>
<text x="0" y="0" font-family='"Liberation Sans", sans-serif' font-size="5.9" font-weight="bold" text-anchor="end" fill="#2a2a2a" transform="translate(484.50 295.38) scale(1 1.0)">3</text>
<line x1="485.40" y1="269.18" x2="488.40" y2="269.18" stroke="#151515" stroke-width="1.1" stroke-linecap="butt"/>
<text x="0" y="0" font-family='"Liberation Sans", sans-serif' font-size="5.9" font-weight="bold" text-anchor="end" fill="#2a2a2a" transform="translate(484.50 271.30) scale(1 1.0)">4</text>
<line x1="485.40" y1="245.10" x2="488.40" y2="245.10" stroke="#151515" stroke-width="1.1" stroke-linecap="butt"/>
<text x="0" y="0" font-family='"Liberation Sans", sans-serif' font-size="5.9" font-weight="bold" text-anchor="end" fill="#2a2a2a" transform="translate(484.50 247.22) scale(1 1.0)">5</text>
<line x1="487.80" y1="365.50" x2="683.70" y2="365.50" stroke="#151515" stroke-width="1.4" stroke-linecap="butt"/>
<line x1="527.60" y1="365.50" x2="527.60" y2="369.40" stroke="#151515" stroke-width="1.1" stroke-linecap="butt"/>
<line x1="586.30" y1="365.50" x2="586.30" y2="369.40" stroke="#151515" stroke-width="1.1" stroke-linecap="butt"/>
<line x1="644.60" y1="365.50" x2="644.60" y2="369.40" stroke="#151515" stroke-width="1.1" stroke-linecap="butt"/>
<text x="0" y="0" font-family='"Liberation Sans", sans-serif' font-size="7.8" font-weight="bold" text-anchor="middle" fill="#1a1a1a" transform="translate(477.40 305.40) rotate(-90) scale(1 1.0)" textLength="105.80" lengthAdjust="spacingAndGlyphs">HUVEC Proliferation rate (%)</text>
<text x="0" y="0" font-family='"Liberation Sans", sans-serif' font-size="7.8" font-weight="bold" text-anchor="middle" fill="#1a1a1a" transform="translate(527.60 376.80) scale(1 1.1)">Con</text>
<text x="0" y="0" font-family='"Liberation Sans", sans-serif' font-size="7.8" font-weight="bold" text-anchor="middle" fill="#1a1a1a" transform="translate(586.30 376.80) scale(1 1.1)">LPS+HG</text>
<text x="0" y="0" font-family='"Liberation Sans", sans-serif' font-size="7.8" font-weight="bold" text-anchor="middle" fill="#1a1a1a" transform="translate(644.60 376.80) scale(1 1.1)">LPS+HG+rhaFGF</text>
<text x="0" y="0" font-family='"Liberation Serif", serif' font-size="17.7" font-weight="normal" text-anchor="middle" fill="#151515" transform="translate(580.00 402.10) scale(1 1.0)">(F)</text>
</svg></body></html>
